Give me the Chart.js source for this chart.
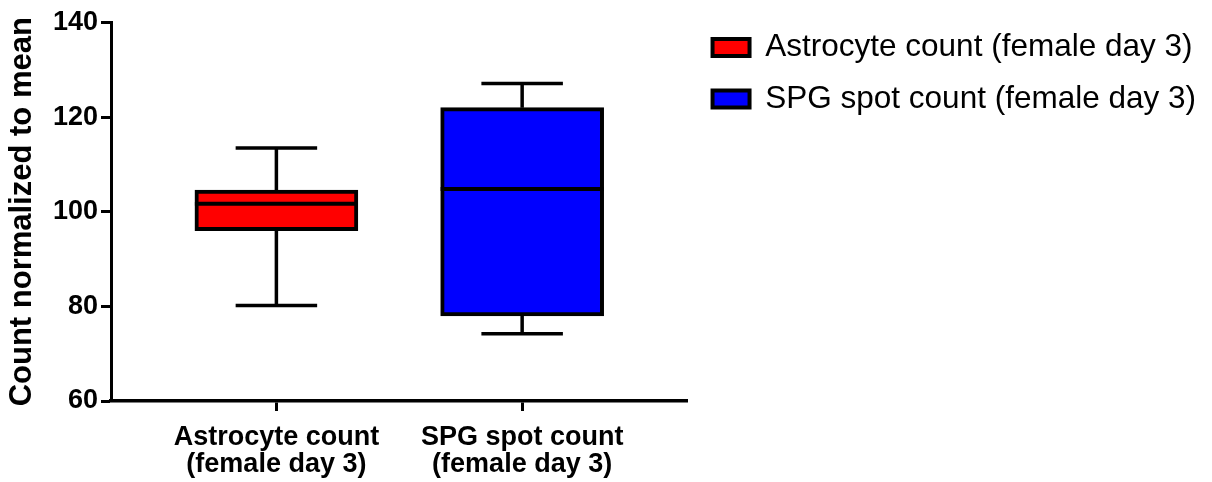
<!DOCTYPE html>
<html>
<head>
<meta charset="utf-8">
<script src="https://cdn.jsdelivr.net/npm/chart.js@4.4.1/dist/chart.umd.min.js"></script>
<style>
  html, body { margin: 0; padding: 0; background: #ffffff; }
  #wrap { width: 1212px; height: 482px; position: relative; }
</style>
</head>
<body>
<div id="wrap"><canvas id="c"></canvas></div>
<script>
// ---- data ----
const seriesNames = ['Astrocyte count (female day 3)', 'SPG spot count (female day 3)'];
const categoryLabels = [['Astrocyte count', '(female day 3)'], ['SPG spot count', '(female day 3)']];
const categoryPositions = [0, 1];
const minValues = [80.2, 74.2];
const q1Values = [96.0, 78.0];
const medianValues = [101.7, 104.8];
const q3Values = [104.6, 122.0];
const maxValues = [113.5, 127.1];
const yTickValues = [60, 80, 100, 120, 140];
const yAxisTitle = 'Count normalized to mean';
const boxColors = ['#FF0000', '#0000FF'];

const FONT = "'Liberation Sans', Arial, Helvetica, sans-serif";
const LEGEND_FONT_SIZE = 31.5;
const LEGEND_PAD = 20;
const LEGEND_BOX_W = 37;
const PLOT_RIGHT = 685;

// measure legend text so the plot area ends where the reference axis ends
const mctx = document.createElement('canvas').getContext('2d');
mctx.font = 'normal ' + LEGEND_FONT_SIZE + 'px ' + FONT;
const maxLegendText = Math.max(...seriesNames.map(s => mctx.measureText(s).width));
const legendWidth = Math.ceil(LEGEND_PAD + LEGEND_BOX_W + LEGEND_FONT_SIZE / 2 + maxLegendText + 12);
const padRight = Math.max(0, 1212 - PLOT_RIGHT - legendWidth);

const datasets = seriesNames.map((name, i) => ({
  label: name,
  data: [{ x: categoryPositions[i], y: [q1Values[i], q3Values[i]] }],
  backgroundColor: boxColors[i],
  borderColor: '#000000',
  borderWidth: 4,
  borderSkipped: false,
  barThickness: 163,
  maxBarThickness: 163,
  barPercentage: 1,
  categoryPercentage: 1,
  grouped: false,
  boxIndex: i
}));

const boxPlotPlugin = {
  id: 'boxPlotParts',
  afterLayout(chart) {
    const lg = chart.legend;
    if (lg) {
      const dx = 5, dy = -10.8;
      lg.left += dx; lg.right += dx;
      lg.top += dy; lg.bottom += dy;
    }
  },
  beforeDatasetsDraw(chart) {
    const ctx = chart.ctx;
    const yScale = chart.scales.y;
    ctx.save();
    ctx.strokeStyle = '#000000';
    ctx.lineWidth = 3.5;
    ctx.lineCap = 'butt';
    chart.data.datasets.forEach((ds, di) => {
      const meta = chart.getDatasetMeta(di);
      const bar = meta.data[0];
      if (!bar) return;
      const i = ds.boxIndex;
      const x = bar.x;
      const capHalf = bar.width * 0.25;
      const yMin = yScale.getPixelForValue(minValues[i]);
      const yMax = yScale.getPixelForValue(maxValues[i]);
      const yQ1 = yScale.getPixelForValue(q1Values[i]);
      const yQ3 = yScale.getPixelForValue(q3Values[i]);
      ctx.beginPath();
      ctx.moveTo(x, yMax); ctx.lineTo(x, yQ3);
      ctx.moveTo(x, yQ1); ctx.lineTo(x, yMin);
      ctx.moveTo(x - capHalf, yMax); ctx.lineTo(x + capHalf, yMax);
      ctx.moveTo(x - capHalf, yMin); ctx.lineTo(x + capHalf, yMin);
      ctx.stroke();
    });
    ctx.restore();
  },
  afterDatasetsDraw(chart) {
    const ctx = chart.ctx;
    const yScale = chart.scales.y;
    ctx.save();
    ctx.strokeStyle = '#000000';
    ctx.lineWidth = 4;
    chart.data.datasets.forEach((ds, di) => {
      const meta = chart.getDatasetMeta(di);
      const bar = meta.data[0];
      if (!bar) return;
      const i = ds.boxIndex;
      const half = bar.width / 2;
      const yMed = yScale.getPixelForValue(medianValues[i]);
      ctx.beginPath();
      ctx.moveTo(bar.x - half, yMed);
      ctx.lineTo(bar.x + half, yMed);
      ctx.stroke();
    });
    ctx.restore();
  }
};

new Chart(document.getElementById('c'), {
  type: 'bar',
  data: { datasets },
  plugins: [boxPlotPlugin],
  options: {
    responsive: true,
    maintainAspectRatio: false,
    animation: false,
    devicePixelRatio: 1,
    layout: { padding: { top: 22.5, left: 0, right: padRight, bottom: 0 } },
    plugins: {
      tooltip: { enabled: false },
      legend: {
        position: 'right',
        align: 'start',
        maxWidth: legendWidth,
        labels: {
          boxWidth: LEGEND_BOX_W,
          boxHeight: 17,
          padding: LEGEND_PAD,
          color: '#000000',
          font: { family: FONT, size: LEGEND_FONT_SIZE, weight: 'normal' }
        }
      }
    },
    scales: {
      x: {
        type: 'linear',
        position: 'bottom',
        offset: false,
        bounds: 'data',
        min: -0.673,
        max: 1.673,
        afterBuildTicks(scale) {
          scale.ticks = categoryPositions.map(v => ({ value: v }));
        },
        afterFit(scale) { scale.height = 81; },
        grid: {
          offset: false,
          drawOnChartArea: false,
          drawTicks: true,
          tickLength: 10,
          tickWidth: 3,
          tickColor: '#000000'
        },
        border: { display: true, color: '#000000', width: 3.5 },
        ticks: {
          autoSkip: false,
          maxRotation: 0,
          padding: 13,
          color: '#000000',
          font: { family: FONT, size: 27, weight: 'bold', lineHeight: 1.0 },
          callback(value) {
            const idx = categoryPositions.indexOf(value);
            return idx >= 0 ? categoryLabels[idx] : '';
          }
        }
      },
      y: {
        type: 'linear',
        min: 60,
        max: 140,
        afterBuildTicks(scale) {
          scale.ticks = yTickValues.map(v => ({ value: v }));
        },
        afterFit(scale) { scale.width = 111; },
        grid: {
          drawOnChartArea: false,
          drawTicks: true,
          tickLength: 10,
          tickWidth: 3,
          tickColor: '#000000'
        },
        border: { display: true, color: '#000000', width: 3 },
        ticks: {
          padding: 3,
          color: '#000000',
          font: { family: FONT, size: 27, weight: 'bold' }
        },
        title: {
          display: true,
          text: yAxisTitle,
          color: '#000000',
          padding: { top: 4, bottom: 4 },
          font: { family: FONT, size: 31, weight: 'bold' }
        }
      }
    }
  }
});
</script>
</body>
</html>
